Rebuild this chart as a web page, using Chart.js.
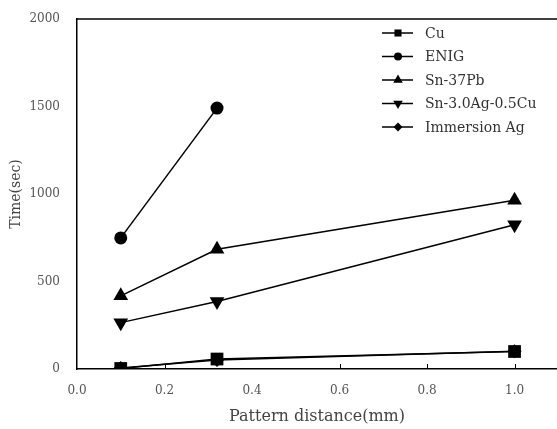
<!DOCTYPE html>
<html>
<head>
<meta charset="utf-8">
<script src="https://cdn.jsdelivr.net/npm/chart.js@4/dist/chart.umd.min.js"></script>
<style>
html,body{margin:0;padding:0;background:#fff;overflow:hidden;}
#wrap{width:557px;height:429px;position:relative;}
</style>
</head>
<body>
<div id="wrap"><canvas id="c"></canvas></div>
<script>
// ---- data ----
const seriesNames = ['Cu', 'ENIG', 'Sn-37Pb', 'Sn-3.0Ag-0.5Cu', 'Immersion Ag'];
const xCu = [0.1, 0.32, 1.0];
const yCu = [3, 57, 100];
const xENIG = [0.1, 0.32];
const yENIG = [749, 1491];
const xSnPb = [0.1, 0.32, 1.0];
const ySnPb = [418, 684, 964];
const xSAC = [0.1, 0.32, 1.0];
const ySAC = [265, 386, 824];
const xAg = [0.1, 0.32, 1.0];
const yAg = [6, 52, 102];
const xTickValues = [0.0, 0.2, 0.4, 0.6, 0.8, 1.0];
const xInnerTicks = [0.2, 0.6, 0.8, 1.0];
const yTickValues = [0, 500, 1000, 1500, 2000];

const styles = [
  {pointStyle: 'rect', rotation: 0, r: 9, lr: 5},
  {pointStyle: 'circle', rotation: 0, r: 6.5, lr: 4},
  {pointStyle: 'triangle', rotation: 0, r: 8.5, lr: 5.5},
  {pointStyle: 'triangle', rotation: 180, r: 8.5, lr: 5.5},
  {pointStyle: 'rectRot', rotation: 0, r: 7, lr: 4.5}
];
const xsList = [xCu, xENIG, xSnPb, xSAC, xAg];
const ysList = [yCu, yENIG, ySnPb, ySAC, yAg];

const datasets = seriesNames.map((name, i) => ({
  label: name,
  data: xsList[i].map((x, j) => ({x: x, y: ysList[i][j]})),
  borderColor: '#000',
  backgroundColor: '#000',
  borderWidth: 1.5,
  pointStyle: styles[i].pointStyle,
  rotation: styles[i].rotation,
  pointRadius: styles[i].r,
  pointHoverRadius: styles[i].r,
  pointBorderWidth: 0,
  pointBackgroundColor: '#000',
  tension: 0,
  clip: {left: 12, top: 12, right: 12, bottom: 0}
}));

const FONT = "'DejaVu Serif', 'Liberation Serif', serif";

const framePlugin = {
  id: 'frame',
  afterDatasetsDraw(chart) {
    const ctx = chart.ctx;
    const a = chart.chartArea;
    const xs = chart.scales.x;
    ctx.save();
    ctx.strokeStyle = '#000';
    ctx.lineWidth = 1.5;
    ctx.beginPath();
    ctx.moveTo(a.left, a.top);
    ctx.lineTo(a.right, a.top);
    ctx.stroke();
    ctx.lineWidth = 1;
    xInnerTicks.forEach(v => {
      const px = Math.round(xs.getPixelForValue(v)) + 0.5;
      ctx.beginPath();
      ctx.moveTo(px, a.bottom);
      ctx.lineTo(px, a.bottom - 5);
      ctx.stroke();
    });
    // legend
    const lx0 = 382, lx1 = 413, mx = 398, tx = 425;
    ctx.font = '14px ' + FONT;
    ctx.textBaseline = 'middle';
    ctx.textAlign = 'left';
    chart.data.datasets.forEach((ds, i) => {
      const y = 33 + i * 23.5;
      ctx.strokeStyle = '#000';
      ctx.lineWidth = 1.5;
      ctx.beginPath();
      ctx.moveTo(lx0, y);
      ctx.lineTo(lx1, y);
      ctx.stroke();
      ctx.fillStyle = '#000';
      Chart.helpers.drawPoint(ctx, {
        pointStyle: styles[i].pointStyle,
        rotation: styles[i].rotation,
        radius: styles[i].lr,
        borderWidth: 0
      }, mx, y);
      ctx.fillStyle = '#333';
      ctx.fillText(ds.label, tx, y + 1);
    });
    ctx.restore();
  }
};

new Chart(document.getElementById('c'), {
  type: 'line',
  data: {datasets: datasets},
  options: {
    responsive: true,
    maintainAspectRatio: false,
    animation: false,
    layout: {autoPadding: false, padding: {top: 19, right: 0, left: 0, bottom: 0}},
    plugins: {legend: {display: false}, tooltip: {enabled: false}},
    scales: {
      x: {
        type: 'linear',
        min: 0,
        max: 1.097,
        afterBuildTicks(s) { s.ticks = xTickValues.map(v => ({value: v})); },
        afterFit(s) { s.height = 60; s.paddingLeft = 0; s.paddingRight = 0; },
        grid: {display: false},
        border: {display: true, color: '#000', width: 1.5},
        ticks: {
          padding: 7,
          color: '#555',
          font: {family: FONT, size: 12},
          callback: v => Number(v).toFixed(1)
        },
        title: {
          display: true,
          text: 'Pattern distance(mm)',
          color: '#444',
          font: {family: FONT, size: 16},
          padding: {top: 0, bottom: 3}
        }
      },
      y: {
        min: 0,
        max: 2000,
        afterBuildTicks(s) { s.ticks = yTickValues.map(v => ({value: v})); },
        afterFit(s) { s.width = 77; s.paddingTop = 0; s.paddingBottom = 0; },
        grid: {display: false},
        border: {display: true, color: '#000', width: 1.5},
        ticks: {
          padding: 9,
          color: '#555',
          font: {family: FONT, size: 12},
          callback: v => String(v)
        },
        title: {
          display: true,
          text: 'Time(sec)',
          color: '#444',
          font: {family: FONT, size: 14},
          padding: {top: 8, bottom: 0}
        }
      }
    }
  },
  plugins: [framePlugin]
});
</script>
</body>
</html>
